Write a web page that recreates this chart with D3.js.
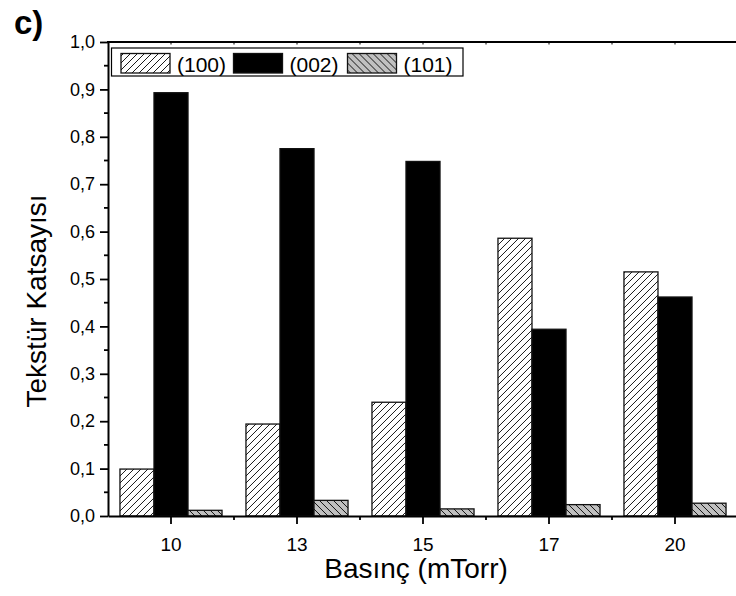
<!DOCTYPE html>
<html>
<head>
<meta charset="utf-8">
<script src="https://cdn.jsdelivr.net/npm/d3@7"></script>
<style>
  body { margin: 0; background: #fff; }
  svg { display: block; font-family: "Liberation Sans", Arial, sans-serif; }
</style>
</head>
<body>
<div id="chart"></div>
<script>
// Texture coefficient per sputtering pressure
const pressures = ["10", "13", "15", "17", "20"];
const seriesNames = ["(100)", "(002)", "(101)"];
const val100 = [0.099, 0.194, 0.240, 0.586, 0.515];
const val002 = [0.893, 0.775, 0.748, 0.394, 0.462];
const val101 = [0.012, 0.033, 0.015, 0.024, 0.027];
const yTickValues = [0, 0.1, 0.2, 0.3, 0.4, 0.5, 0.6, 0.7, 0.8, 0.9, 1.0];

const width = 736, height = 596;
const plotLeft = 108, plotRight = 738, plotTop = 42, plotBottom = 516;

const svg = d3.select("#chart").append("svg")
    .attr("width", width)
    .attr("height", height);

// hatch patterns
const defs = svg.append("defs");
const p1 = defs.append("pattern")
    .attr("id", "hatch100")
    .attr("patternUnits", "userSpaceOnUse")
    .attr("width", 7).attr("height", 7);
p1.append("rect").attr("width", 7).attr("height", 7).attr("fill", "#fff");
p1.append("path")
    .attr("d", "M-1,1 l2,-2 M0,7 l7,-7 M6,8 l2,-2")
    .attr("stroke", "#000").attr("stroke-width", 0.9);

const p3 = defs.append("pattern")
    .attr("id", "hatch101")
    .attr("patternUnits", "userSpaceOnUse")
    .attr("width", 7).attr("height", 7);
p3.append("rect").attr("width", 7).attr("height", 7).attr("fill", "#c0c0c0");
p3.append("path")
    .attr("d", "M-1,6 l2,2 M0,0 l7,7 M6,-1 l2,2")
    .attr("stroke", "#000").attr("stroke-width", 0.9);

const fills = ["url(#hatch100)", "#000", "url(#hatch101)"];

const x = d3.scaleBand()
    .domain(pressures)
    .range([plotLeft, plotRight])
    .paddingInner(0.19)
    .paddingOuter(0.095);

const xSub = d3.scaleBand()
    .domain(seriesNames)
    .range([0, x.bandwidth()]);

const y = d3.scaleLinear().domain([0, 1]).range([plotBottom, plotTop]);

const fmt = v => d3.format(".1f")(v).replace(".", ",");

const rows = pressures.map((p, i) => ({
    p,
    vals: [val100[i], val002[i], val101[i]]
}));

// bars
const groups = svg.selectAll(".grp")
    .data(rows)
    .enter().append("g")
    .attr("class", "grp")
    .attr("transform", d => `translate(${x(d.p)},0)`);

groups.selectAll("rect")
    .data(d => d.vals.map((v, k) => ({ name: seriesNames[k], v, k })))
    .enter().append("rect")
    .attr("x", d => xSub(d.name))
    .attr("y", d => y(d.v))
    .attr("width", xSub.bandwidth())
    .attr("height", d => y(0) - y(d.v))
    .attr("fill", d => fills[d.k])
    .attr("stroke", "#111")
    .attr("stroke-width", 1.3);

// y axis
const yAxis = svg.append("g")
    .attr("transform", `translate(${plotLeft},0)`)
    .call(d3.axisLeft(y).tickValues(yTickValues).tickFormat(fmt).tickSize(8).tickSizeOuter(0));
yAxis.select(".domain").attr("stroke-width", 2);
yAxis.selectAll(".tick line").attr("stroke-width", 1.8);
yAxis.selectAll(".tick text")
    .attr("x", -13)
    .style("font-size", "18px")
    .attr("fill", "#000");

// y minor ticks
svg.append("g").selectAll("line")
    .data(yTickValues.slice(0, -1).map(v => v + 0.05))
    .enter().append("line")
    .attr("x1", plotLeft - 4).attr("x2", plotLeft)
    .attr("y1", d => y(d)).attr("y2", d => y(d))
    .attr("stroke", "#000").attr("stroke-width", 1.8);

// x axis
const xAxis = svg.append("g")
    .attr("transform", `translate(0,${plotBottom})`)
    .call(d3.axisBottom(x).tickSize(8).tickSizeOuter(0));
xAxis.select(".domain").attr("stroke-width", 2);
xAxis.selectAll(".tick line").attr("stroke-width", 1.8);
xAxis.selectAll(".tick text")
    .attr("y", 0)
    .attr("dy", 35)
    .style("font-size", "19px")
    .attr("fill", "#000");

// x minor ticks at category boundaries
const bounds = pressures.slice(1).map(p => x(p) - x.step() * x.paddingInner() / 2);
svg.append("g").selectAll("line")
    .data(bounds)
    .enter().append("line")
    .attr("x1", d => d).attr("x2", d => d)
    .attr("y1", plotBottom).attr("y2", plotBottom + 4)
    .attr("stroke", "#000").attr("stroke-width", 1.8);

// top frame line with small inner ticks
svg.append("line")
    .attr("x1", plotLeft - 1).attr("x2", width)
    .attr("y1", plotTop).attr("y2", plotTop)
    .attr("stroke", "#000").attr("stroke-width", 2);
svg.append("g").selectAll("line")
    .data(pressures.map(p => x(p) + x.bandwidth() / 2).concat(bounds))
    .enter().append("line")
    .attr("x1", d => d).attr("x2", d => d)
    .attr("y1", plotTop).attr("y2", plotTop + 2.5)
    .attr("stroke", "#000").attr("stroke-width", 1);

// axis titles
svg.append("text")
    .attr("x", 416).attr("y", 578)
    .attr("text-anchor", "middle")
    .style("font-size", "28px")
    .text("Basınç (mTorr)");

svg.append("text")
    .attr("transform", "translate(46,301) rotate(-90)")
    .attr("text-anchor", "middle")
    .style("font-size", "28px")
    .text("Tekstür Katsayısı");

// panel label
svg.append("text")
    .attr("x", 14).attr("y", 34)
    .style("font-size", "33px")
    .style("font-weight", "bold")
    .text("c)");

// legend
const legend = svg.append("g");
legend.append("rect")
    .attr("x", 111.5).attr("y", 48)
    .attr("width", 351.5).attr("height", 28)
    .attr("fill", "#fff")
    .attr("stroke", "#000").attr("stroke-width", 1.2);

const legX = [121, 233.5, 347.5];
const items = legend.selectAll(".item")
    .data(seriesNames)
    .enter().append("g")
    .attr("transform", (d, i) => `translate(${legX[i]},0)`);
items.append("rect")
    .attr("x", 0).attr("y", 53.5)
    .attr("width", 49).attr("height", 19.5)
    .attr("fill", (d, i) => fills[i])
    .attr("stroke", "#111").attr("stroke-width", 1.3);
items.append("text")
    .attr("x", 56).attr("y", 72)
    .style("font-size", "21px")
    .text(d => d);
</script>
</body>
</html>
